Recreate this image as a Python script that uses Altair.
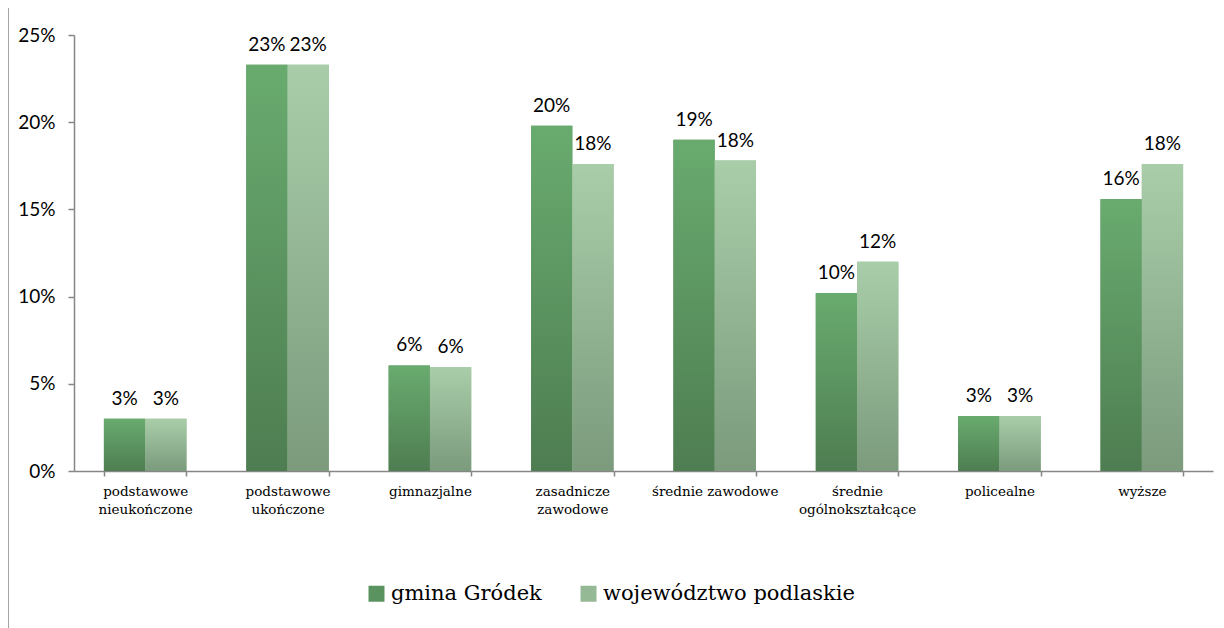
import altair as alt
import pandas as pd

categories = [
    "podstawowe nieukończone",
    "podstawowe ukończone",
    "gimnazjalne",
    "zasadnicze zawodowe",
    "średnie zawodowe",
    "średnie ogólnokształcące",
    "policealne",
    "wyższe",
]
series = ["gmina Gródek", "województwo podlaskie"]
gmina = [3.0, 23.3, 6.05, 19.8, 19.0, 10.2, 3.15, 15.6]
wojewodztwo = [3.0, 23.3, 5.95, 17.6, 17.8, 12.0, 3.15, 17.6]
y_ticks = [0, 5, 10, 15, 20, 25]

rows = []
for c, g, w in zip(categories, gmina, wojewodztwo):
    rows.append({"cat": c, "series": series[0], "value": g})
    rows.append({"cat": c, "series": series[1], "value": w})
df = pd.DataFrame(rows)

W, H = 1139, 436
axis_grey = "#868686"

grad_g = alt.Gradient(
    gradient="linear", x1=0, x2=0, y1=0, y2=1,
    stops=[alt.GradientStop(color="#69ab6f", offset=0),
           alt.GradientStop(color="#4e7d51", offset=1)],
)
grad_w = alt.Gradient(
    gradient="linear", x1=0, x2=0, y1=0, y2=1,
    stops=[alt.GradientStop(color="#a9cda9", offset=0),
           alt.GradientStop(color="#7b9b7c", offset=1)],
)

x = alt.X(
    "cat:N", sort=categories,
    scale=alt.Scale(paddingInner=0.42, paddingOuter=0.21),
    axis=alt.Axis(
        title=None, labelAngle=0,
        labelExpr="datum.label == 'średnie zawodowe' ? datum.label : split(datum.label, ' ')",
        labelFont="DejaVu Serif", labelFontSize=13.5, labelColor="#000000",
        labelLineHeight=18, labelPadding=8, labelLimit=300,
        tickBand="extent", tickSize=5, tickColor=axis_grey,
        domainColor=axis_grey, domainWidth=1.5, tickWidth=1.5,
    ),
)
xo = alt.XOffset("series:N", scale=alt.Scale(domain=series, paddingInner=0, paddingOuter=0))
y = alt.Y(
    "value:Q",
    scale=alt.Scale(domain=[0, 25], nice=False, zero=True),
    axis=alt.Axis(
        values=y_ticks, labelExpr="datum.value + '%'", title=None, grid=False,
        labelFont="Lato", labelFontSize=19, labelColor="#000000", labelPadding=13,
        tickSize=6, tickColor=axis_grey, domainColor=axis_grey,
        domainWidth=1.5, tickWidth=1.5,
    ),
)

base = alt.Chart(df)

legend_bars = base.mark_bar().encode(
    x=x, xOffset=xo, y=y,
    color=alt.Color(
        "series:N",
        scale=alt.Scale(domain=series, range=["#5b9360", "#94b994"]),
        legend=alt.Legend(
            title=None, orient="none", legendX=292, legendY=548,
            direction="horizontal", symbolType="square", symbolSize=256,
            symbolStrokeWidth=0, labelFont="DejaVu Serif", labelFontSize=21,
            labelColor="#000000", columnPadding=36, labelOffset=4,
            labelLimit=400,
        ),
    ),
)
g_bars = base.transform_filter(alt.datum.series == series[0]).mark_bar(fill=grad_g).encode(
    x=x, xOffset=xo, y=y
)
w_bars = base.transform_filter(alt.datum.series == series[1]).mark_bar(fill=grad_w).encode(
    x=x, xOffset=xo, y=y
)
labels = base.transform_calculate(
    label="format(datum.value, '.0f') + '%'"
).mark_text(
    baseline="alphabetic", dy=-14, font="Lato", fontSize=19, color="#000000"
).encode(x=x, xOffset=xo, y=y, text="label:N")

frame = alt.Chart(pd.DataFrame({"a": [0]})).mark_rule(color=axis_grey, strokeWidth=1.5).encode(
    x=alt.value(-66), y=alt.value(-45), y2=alt.value(H + 200)
)

chart = alt.layer(legend_bars, g_bars, w_bars, labels, frame).properties(
    width=W, height=H,
    autosize=alt.AutoSizeParams(type="none"),
    padding={"left": 66, "top": 27, "right": 2, "bottom": 160},
).configure_view(stroke=None)

chart.save("out.html", embed_options={"renderer": "svg", "actions": False})
